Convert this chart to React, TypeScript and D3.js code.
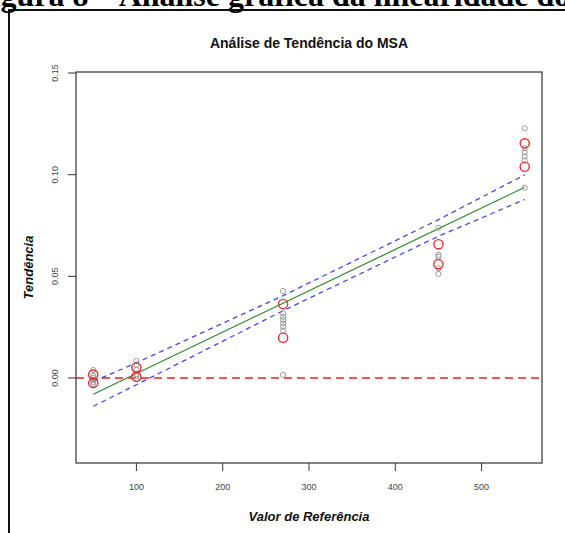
import * as d3 from 'd3'

// reference values (x) and measured tendency (y)
const GRAY_X = [
  50, 50, 50, 50, 50, 50,
  100, 100, 100, 100, 100, 100,
  270, 270, 270, 270, 270, 270, 270, 270,
  450, 450, 450, 450, 450,
  550, 550, 550, 550, 550, 550
]
const GRAY_Y = [
  0.0039, 0.001, 0.0, -0.001, -0.002, -0.003,
  0.0084, 0.0065, 0.004, 0.002, 0.001, -0.0005,
  0.0428, 0.0318, 0.0301, 0.0285, 0.0268, 0.0252, 0.0233, 0.0015,
  0.0739, 0.0606, 0.0596, 0.054, 0.0512,
  0.1228, 0.113, 0.111, 0.109, 0.107, 0.0936
]
const RED_X = [50, 50, 100, 100, 270, 270, 450, 450, 550, 550]
const RED_Y = [0.0017, -0.0024, 0.0052, 0.0006, 0.0364, 0.0198, 0.0658, 0.056, 0.1154, 0.1039]

// fitted line and confidence band
const FIT_X = [50, 550]
const FIT_Y = [-0.008, 0.0938]
const BAND_X = [50, 100, 270, 450, 550]
const BAND_UPPER = [-0.0017, 0.0075, 0.0405, 0.0779, 0.0999]
const BAND_LOWER = [-0.0139, -0.0033, 0.0331, 0.0697, 0.0878]

const X_TICKS = [100, 200, 300, 400, 500]
const Y_TICKS = [0, 0.05, 0.1, 0.15]

const W = 565
const H = 533
const plot = { left: 76, right: 542, top: 72, bottom: 463 }

export default function App() {
  const x = d3.scaleLinear().domain([30, 570]).range([plot.left, plot.right])
  const y = d3.scaleLinear().domain([-0.0418, 0.1505]).range([plot.bottom, plot.top])

  const line = d3.line<[number, number]>()
    .x(d => x(d[0]))
    .y(d => y(d[1]))

  const fitPath = line(FIT_X.map((v, i) => [v, FIT_Y[i]]))
  const upperPath = line(BAND_X.map((v, i) => [v, BAND_UPPER[i]]))
  const lowerPath = line(BAND_X.map((v, i) => [v, BAND_LOWER[i]]))

  const sans = 'Liberation Sans, Arial, sans-serif'

  return (
    <svg width={W} height={H} style={{ position: 'absolute', left: 0, top: 0, background: '#fff' }}>
      {/* outer frame */}
      <rect x={9} y={10} width={W + 10} height={H + 10} fill="#fff" stroke="#111" strokeWidth={2} />

      {/* heading of the document page, cut at the top */}
      <text x={-28} y={6} fontFamily="Liberation Serif, Times New Roman, serif"
        fontWeight="bold" fontSize={32} fill="#000">
        Figura 8 – Análise gráfica da linearidade do
      </text>

      {/* title */}
      <text x={(plot.left + plot.right) / 2} y={48} textAnchor="middle" fontFamily={sans}
        fontWeight="bold" fontSize={14} fill="#111">
        Análise de Tendência do MSA
      </text>

      {/* zero reference line */}
      <line x1={plot.left} x2={plot.right} y1={y(0)} y2={y(0)}
        stroke="#f01c1c" strokeWidth={1.3} strokeDasharray="8,5" />

      {/* confidence band */}
      <path d={upperPath ?? ''} fill="none" stroke="#4747f5" strokeWidth={1.3} strokeDasharray="5,4" />
      <path d={lowerPath ?? ''} fill="none" stroke="#4747f5" strokeWidth={1.3} strokeDasharray="5,4" />

      {/* fitted line */}
      <path d={fitPath ?? ''} fill="none" stroke="#2f8a2f" strokeWidth={1.2} />

      {/* individual measurements */}
      {GRAY_X.map((v, i) => (
        <circle key={`g${i}`} cx={x(v)} cy={y(GRAY_Y[i])} r={2.6}
          fill="none" stroke="#9a9a9a" strokeWidth={1} />
      ))}

      {/* averages */}
      {RED_X.map((v, i) => (
        <circle key={`r${i}`} cx={x(v)} cy={y(RED_Y[i])} r={4.6}
          fill="none" stroke="#ee2b2b" strokeWidth={1.4} />
      ))}

      {/* box */}
      <rect x={plot.left} y={plot.top} width={plot.right - plot.left} height={plot.bottom - plot.top}
        fill="none" stroke="#333" strokeWidth={1.2} />

      {/* x axis */}
      {X_TICKS.map(t => (
        <g key={`xt${t}`}>
          <line x1={x(t)} x2={x(t)} y1={plot.bottom} y2={plot.bottom + 8} stroke="#333" strokeWidth={1} />
          <text x={x(t)} y={490} textAnchor="middle" fontFamily={sans} fontSize={9} fill="#444">
            {t}
          </text>
        </g>
      ))}

      {/* y axis */}
      {Y_TICKS.map(t => (
        <g key={`yt${t}`}>
          <line x1={plot.left - 8} x2={plot.left} y1={y(t)} y2={y(t)} stroke="#333" strokeWidth={1} />
          <text transform={`translate(58, ${y(t)}) rotate(-90)`} textAnchor="middle"
            fontFamily={sans} fontSize={9} fill="#444">
            {t.toFixed(2)}
          </text>
        </g>
      ))}

      {/* axis titles */}
      <text x={(plot.left + plot.right) / 2} y={521} textAnchor="middle" fontFamily={sans}
        fontWeight="bold" fontStyle="italic" fontSize={13} fill="#111">
        Valor de Referência
      </text>
      <text transform={`translate(33, ${(plot.top + plot.bottom) / 2}) rotate(-90)`} textAnchor="middle"
        fontFamily={sans} fontWeight="bold" fontStyle="italic" fontSize={13} fill="#111">
        Tendência
      </text>
    </svg>
  )
}
